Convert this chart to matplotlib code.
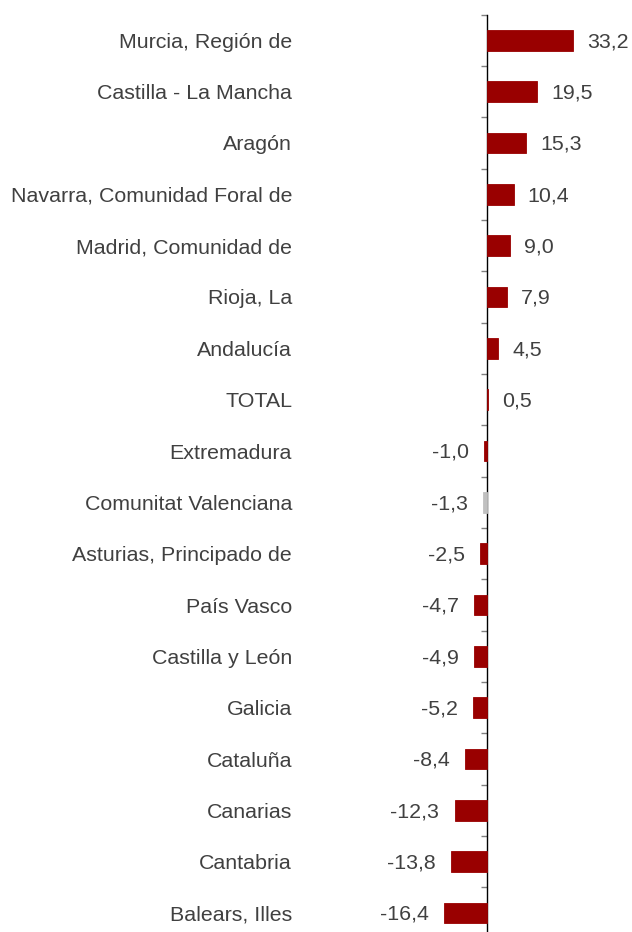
import numpy as np
import matplotlib
matplotlib.use("Agg")
import matplotlib.pyplot as plt

regiones = ["Murcia, Región de", "Castilla - La Mancha", "Aragón",
            "Navarra, Comunidad Foral de", "Madrid, Comunidad de", "Rioja, La",
            "Andalucía", "TOTAL", "Extremadura", "Comunitat Valenciana",
            "Asturias, Principado de", "País Vasco", "Castilla y León",
            "Galicia", "Cataluña", "Canarias", "Cantabria", "Balears, Illes"]
valores = [33.2, 19.5, 15.3, 10.4, 9.0, 7.9, 4.5, 0.5, -1.0, -1.3,
           -2.5, -4.7, -4.9, -5.2, -8.4, -12.3, -13.8, -16.4]
destacada = "Comunitat Valenciana"

plt.rcParams["font.family"] = ["Liberation Sans", "DejaVu Sans"]
texto = "#404040"
fs = 15.4

fig = plt.figure(figsize=(6.32, 9.32), dpi=100)
# eje vertical en x=487px, 2.6 px por unidad
escala = 2.6
ax = fig.add_axes([0, -0.0072, 1, 0.9915])
ax.set_xlim(-486.5 / escala, 145.5 / escala)
n = len(regiones)
ax.set_ylim(n - 0.5, -0.5)

y = np.arange(n)
colores = ["#C0C0C0" if r == destacada else "#990000" for r in regiones]
ax.barh(y, valores, height=0.4, color=colores, edgecolor=colores,
        linewidth=0.6, zorder=3)

for yi, v in zip(y, valores):
    etiqueta = f"{v:.1f}".replace(".", ",")
    if v >= 0:
        ax.annotate(etiqueta, (v, yi), xytext=(10, -1), textcoords="offset points",
                    ha="left", va="center", fontsize=fs, color=texto)
    else:
        ax.annotate(etiqueta, (v, yi), xytext=(-11, -1), textcoords="offset points",
                    ha="right", va="center", fontsize=fs, color=texto)

for s in ["top", "right", "bottom"]:
    ax.spines[s].set_visible(False)
ax.spines["left"].set_position(("data", 0))
ax.spines["left"].set_color("black")
ax.spines["left"].set_linewidth(1.0)
ax.set_xticks([])
ax.set_yticks(y)
ax.set_yticklabels(regiones, fontsize=fs, color=texto)
ax.tick_params(axis="y", which="major", length=0, pad=140)
ax.set_yticks(np.arange(n + 1) - 0.5, minor=True)
ax.tick_params(axis="y", which="minor", length=4.5, width=1.0, color="#808080")

fig.savefig("out.png", dpi=100)
